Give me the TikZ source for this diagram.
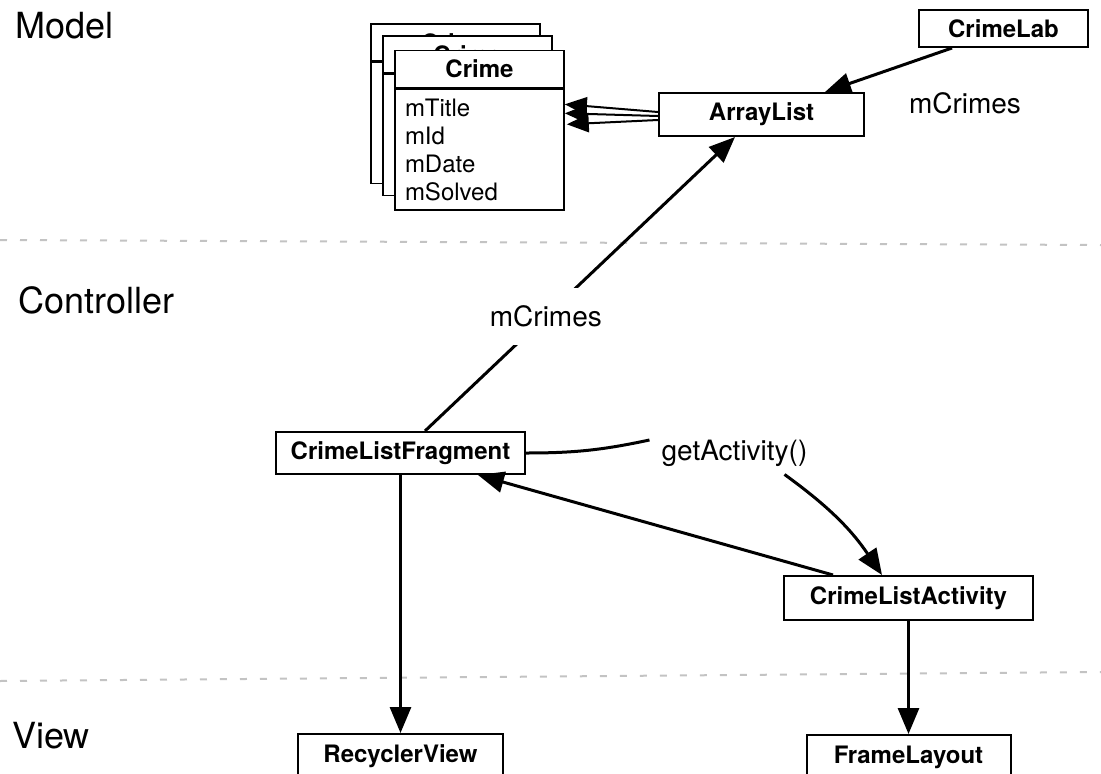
\documentclass[tikz,border=0pt]{standalone}
\usepackage{fontspec}
\setmainfont{TeX Gyre Heros}
\usetikzlibrary{
  positioning,
  arrows.meta}
\definecolor{sepcolor}{RGB}{195,195,195}
\tikzset{
  %% layer : name of a layer (model, controller, view)
  layer/.style={
    anchor=base west,
    inner sep=0pt,
    font=\fontsize{36}{43}\selectfont
  },
  %% classbox : a class
  classbox/.style={
    rectangle,
    draw=black,
    line width=2pt,
    fill=white,
    minimum height=42pt,
    align=center,
    font=\bfseries\fontsize{24}{28}\selectfont
  },
  %% cardhead : title part of a crime object
  cardhead/.style={
    rectangle,
    draw=black,
    line width=1.6pt,
    fill=white,
    minimum width=169pt,
    minimum height=37pt,
    inner sep=0pt,
    font=\bfseries\fontsize{24}{28}\selectfont
  },
  %% cardbody : fields of a crime object
  cardbody/.style={
    rectangle,
    draw=black,
    line width=1.6pt,
    fill=white,
    text width=149pt,
    inner xsep=10pt,
    inner ysep=0pt,
    minimum height=121pt,
    align=left,
    font=\fontsize{24}{28}\selectfont
  },
  %% rolename : name of a reference
  rolename/.style={
    font=\fontsize{28}{34}\selectfont
  },
  %% assoc : a reference between objects
  assoc/.style={
    line width=3pt,
    -{Triangle[length=26pt, width=21pt]}
  },
  %% separator : line between two layers
  separator/.style={sepcolor, line width=2pt, dash pattern=on 7pt off 13pt}
}
\begin{document}
\begin{tikzpicture}
  [x=1pt,
  y=-1pt]

  \useasboundingbox (0, 0) rectangle (1101, 774);

  %% Layers
  \draw [separator] (0, 240) -- (1101, 245);
  \draw [separator] (0, 681) -- (1101, 672);
  \node (model) [layer] at (15, 38) {Model};
  \node (controller) [layer] at (18, 313) {Controller};
  \node (view) [layer] at (12, 748) {View};

  %% Model
  %% stacked crime objects behind the first one
  \foreach \cx/\cy/\cname in {455.5/42.5/crimeback, 467.5/54.5/crimemid}{
    \node (\cname) [cardhead] at (\cx, \cy) {Crime};
    \node (\cname-body) [cardbody, below=0pt of \cname] {};
  }
  \node (crime) [cardhead] at (479.5, 69) {Crime};
  \node (crime-body) [cardbody, below=0pt of crime]{%
    mTitle\\mId\\mDate\\mSolved};

  \node (arraylist) [classbox, minimum width=205pt, minimum height=43pt]
  at (761.5, 114.5) {ArrayList};
  \node (crimelab) [classbox, minimum width=169pt, minimum height=37pt]
  at (1003.5, 28.5) {CrimeLab};
  \node (labcrimes) [rolename] at (965, 103) {mCrimes};

  %% Controller
  \node (fragment) [classbox, minimum width=249pt]
  at (400.5, 453) {CrimeListFragment};
  \node (activity) [classbox, minimum width=249pt, minimum height=44pt]
  at (908.5, 598) {CrimeListActivity};
  \node (getact) [rolename, inner xsep=12pt, inner ysep=8pt]
  at (734.5, 453) {getActivity()};

  %% View
  \node (recycler) [classbox, minimum width=205pt, minimum height=44pt,
  below=258pt of fragment] {RecyclerView};
  \node (framelayout) [classbox, minimum width=204pt, minimum height=44pt,
  below=113pt of activity] {FrameLayout};

  %% Connections
  \draw [assoc, line width=2pt, -{Triangle[length=22pt, width=18pt]}]
  ([yshift=2.5pt]arraylist.west) -- ([yshift=-16pt]crime-body.north east);
  \draw [assoc, line width=2pt, -{Triangle[length=22pt, width=18pt]}]
  ([yshift=-1.5pt]arraylist.west) -- ([yshift=-25pt]crime-body.north east);
  \draw [assoc, line width=2pt, -{Triangle[length=22pt, width=18pt]}]
  ([yshift=-5.5pt]arraylist.west) -- ([xshift=2pt, yshift=-36pt]crime-body.north east);
  \draw [assoc] ([xshift=-51.5pt]crimelab.south) -- ([xshift=63.5pt]arraylist.north);
  \draw [assoc] ([xshift=24.5pt]fragment.north) --
  node [pos=0.39, rolename, fill=white, inner xsep=4pt, inner ysep=18pt]
  (fragcrimes) {mCrimes}
  ([xshift=-26.5pt]arraylist.south);
  \draw [line width=3pt] (fragment.east) to [bend right=6] ([yshift=13pt]getact.west);
  \draw [assoc] ([xshift=50pt]getact.south) to [bend left=10]
  ([xshift=-26.5pt]activity.north);
  \draw [assoc] ([xshift=-75.5pt]activity.north) -- ([xshift=77.5pt]fragment.south);
  \draw [assoc] (fragment.south) -- (recycler.north);
  \draw [assoc] (activity.south) -- (framelayout.north);

\end{tikzpicture}
\end{document}
